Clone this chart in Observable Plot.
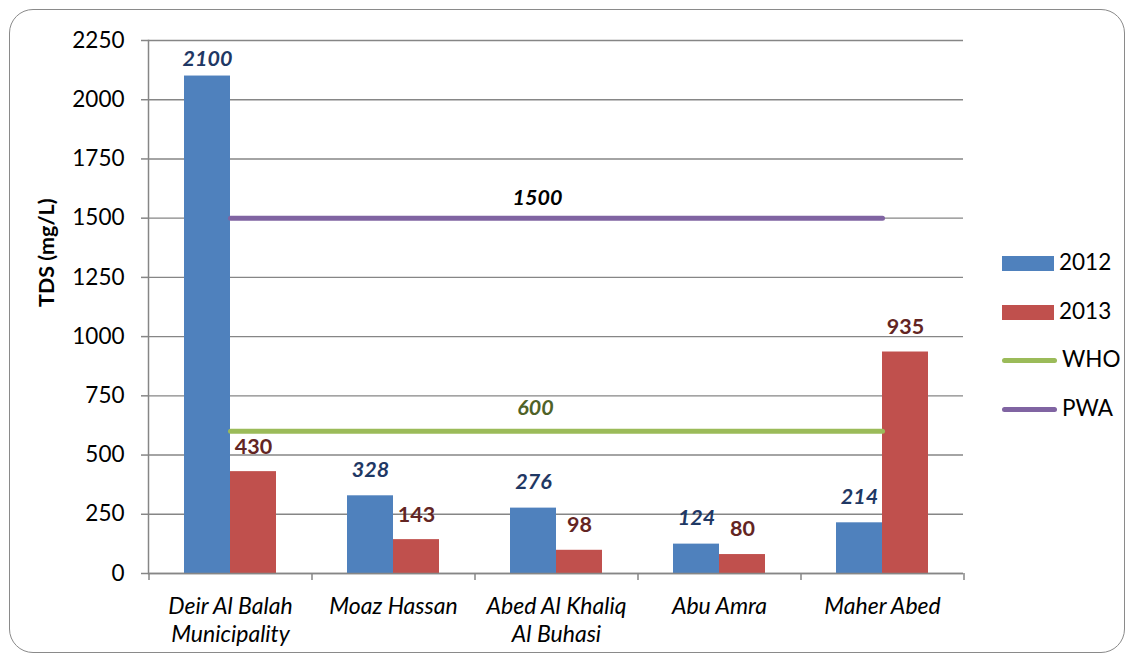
<!DOCTYPE html>
<html>
<head>
<meta charset="utf-8">
<script src="https://cdn.jsdelivr.net/npm/d3@7"></script>
<script src="https://cdn.jsdelivr.net/npm/@observablehq/plot@0.6"></script>
<style>
  html, body { margin: 0; padding: 0; background: #fff; }
  #wrap { position: relative; width: 1135px; height: 661px; font-family: Lato, "Open Sans", sans-serif; }
  #border { position: absolute; left: 9px; top: 9px; width: 1116px; height: 644px; border: 1.5px solid #8a8a8a; border-radius: 24px; box-sizing: border-box; pointer-events: none; }
  #legend { position: absolute; left: 1002px; top: 248px; }
  .item { position: relative; height: 48.5px; display: flex; align-items: flex-start; }
  .item span { font-size: 22.5px; line-height: 28px; margin-left: 5px; color: #000; }
  .sw { width: 52px; height: 15px; margin-top: 8px; }
  .ln { width: 55px; height: 5px; border-radius: 3px; margin-top: 13px; }
</style>
</head>
<body>
<div id="wrap"><div id="border"></div><div id="legend"></div></div>
<script>
const sites = ["Deir Al Balah Municipality", "Moaz Hassan", "Abed Al Khaliq Al Buhasi", "Abu Amra", "Maher Abed"];
const siteLabels = ["Deir Al Balah\nMunicipality", "Moaz Hassan", "Abed Al Khaliq\nAl Buhasi", "Abu Amra", "Maher Abed"];
const tds2012 = [2100, 328, 276, 124, 214];
const tds2013 = [430, 143, 98, 80, 935];
const whoLimit = 600;
const pwaLimit = 1500;
const yTicks = [0, 250, 500, 750, 1000, 1250, 1500, 1750, 2000, 2250];
const legendItems = [
  {name: "2012", kind: "bar", color: "#4F81BD"},
  {name: "2013", kind: "bar", color: "#C0504D"},
  {name: "WHO", kind: "line", color: "#9BBB59"},
  {name: "PWA", kind: "line", color: "#8064A2"}
];

const d12 = sites.map((s, i) => ({site: s, v: tds2012[i]}));
const d13 = sites.map((s, i) => ({site: s, v: tds2013[i]}));
const whoLine = [{site: sites[0], v: whoLimit}, {site: sites[sites.length - 1], v: whoLimit}];
const pwaLine = [{site: sites[0], v: pwaLimit}, {site: sites[sites.length - 1], v: pwaLimit}];
const labelMap = new Map(sites.map((s, i) => [s, siteLabels[i]]));
const gray = "#868686";
const font = "Lato, 'Open Sans', sans-serif";

const chart = Plot.plot({
  width: 1135,
  height: 661,
  marginLeft: 148,
  marginRight: 172,
  marginTop: 40,
  marginBottom: 88,
  style: {fontFamily: font, background: "transparent", overflow: "visible"},
  x: {domain: sites, paddingInner: 0.7178, paddingOuter: 0.3589, label: null},
  y: {domain: [0, 2250], label: null},
  marks: [
    Plot.gridY(yTicks, {stroke: gray, strokeOpacity: 1, strokeWidth: 1.4}),
    Plot.barY(d12, {x: "site", y: "v", fill: "#4F81BD", dx: -23}),
    Plot.barY(d13, {x: "site", y: "v", fill: "#C0504D", dx: 23}),
    Plot.lineY(whoLine, {x: "site", y: "v", stroke: "#9BBB59", strokeWidth: 5, strokeLinecap: "round"}),
    Plot.lineY(pwaLine, {x: "site", y: "v", stroke: "#8064A2", strokeWidth: 5, strokeLinecap: "round"}),
    Plot.ruleY([0], {stroke: gray, strokeWidth: 1.5}),
    Plot.frame({anchor: "left", stroke: gray, strokeWidth: 1.5}),
    Plot.axisY({ticks: yTicks, tickSize: 7, tickPadding: 17, fontSize: 22.5, stroke: gray, fill: "#000", strokeWidth: 1.5, label: null, tickFormat: d => String(d)}),
    Plot.axisX({tickSize: 7, tickFormat: () => "", dx: -81.5, stroke: gray, strokeWidth: 1.5, label: null}),
    Plot.axisX({ticks: [sites[sites.length - 1]], tickSize: 7, tickFormat: () => "", dx: 81.5, stroke: gray, strokeWidth: 1.5, label: null}),
    Plot.axisX({tickSize: 0, tickPadding: 21, fontSize: 23, fontStyle: "italic", lineHeight: 1.22, fill: "#000", tickFormat: d => labelMap.get(d), label: null}),
    Plot.text(d12.filter(d => d.v <= 2000), {x: "site", y: "v", dx: -23, dy: -26, text: d => String(d.v), fill: "#1F3864", fontSize: 21.5, fontWeight: "bold", fontStyle: "italic"}),
    Plot.text(d12.filter(d => d.v > 2000), {x: "site", y: "v", dx: -23, dy: -17, text: d => String(d.v), fill: "#1F3864", fontSize: 21.5, fontWeight: "bold", fontStyle: "italic"}),
    Plot.text(d13, {x: "site", y: "v", dx: 23, dy: -25, text: d => String(d.v), fill: "#632523", fontSize: 21.5, fontWeight: "bold"}),
    Plot.text([{site: sites[2], v: pwaLimit}], {x: "site", y: "v", dx: -19, dy: -20, text: d => String(d.v), fill: "#000", fontSize: 21.5, fontWeight: "bold", fontStyle: "italic"}),
    Plot.text([{site: sites[2], v: whoLimit}], {x: "site", y: "v", dx: -21, dy: -23, text: d => String(d.v), fill: "#4F6228", fontSize: 21.5, fontWeight: "bold", fontStyle: "italic"}),
    Plot.text(["TDS (mg/L)"], {frameAnchor: "left", rotate: -90, dx: -101, text: d => d, fill: "#000", fontSize: 21.5, fontWeight: "bold"})
  ]
});
document.getElementById("wrap").prepend(chart);

const legend = document.getElementById("legend");
for (const it of legendItems) {
  const row = document.createElement("div");
  row.className = "item";
  const sw = document.createElement("div");
  sw.className = it.kind === "bar" ? "sw" : "ln";
  sw.style.background = it.color;
  const t = document.createElement("span");
  t.textContent = it.name;
  row.append(sw, t);
  legend.append(row);
}
</script>
</body>
</html>
